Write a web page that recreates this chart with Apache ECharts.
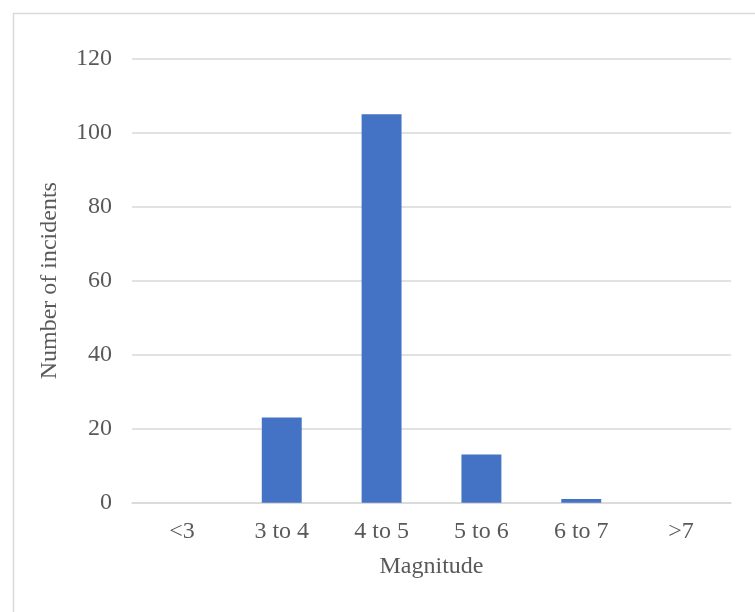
<!DOCTYPE html>
<html>
<head>
<meta charset="utf-8">
<style>
html,body{margin:0;padding:0;background:#fff;}
#chart{width:755px;height:612px;}
</style>
<script src="https://cdn.jsdelivr.net/npm/echarts@6/dist/echarts.min.js"></script>
</head>
<body>
<div id="chart"></div>
<script>
const categories = ['<3', '3 to 4', '4 to 5', '5 to 6', '6 to 7', '>7'];
const incidents = [0, 23, 105, 13, 1, 0];
const yTicks = {min: 0, max: 120, step: 20};

const chart = echarts.init(document.getElementById('chart'), null, {renderer: 'canvas'});
const font = '"Liberation Serif", "Times New Roman", serif';
chart.setOption({
  animation: false,
  backgroundColor: '#fff',
  graphic: [{
    type: 'rect',
    shape: {x: 13.5, y: 13.5, width: 800, height: 700},
    style: {fill: 'none', stroke: '#d9d9d9', lineWidth: 1.5},
    silent: true
  }],
  grid: {left: 132, right: 24, top: 58.7, bottom: 109.3},
  xAxis: {
    type: 'category',
    data: categories,
    axisLine: {show: true, lineStyle: {color: '#d9d9d9', width: 1.5}},
    axisTick: {show: false},
    axisLabel: {color: '#595959', fontFamily: font, fontSize: 24, margin: 17},
    name: 'Magnitude',
    nameLocation: 'middle',
    nameGap: 52,
    nameTextStyle: {color: '#595959', fontFamily: font, fontSize: 24}
  },
  yAxis: {
    type: 'value',
    min: yTicks.min,
    max: yTicks.max,
    interval: yTicks.step,
    axisLine: {show: false},
    axisTick: {show: false},
    splitLine: {lineStyle: {color: '#d9d9d9', width: 1.5}},
    axisLabel: {color: '#595959', fontFamily: font, fontSize: 24, margin: 20},
    name: 'Number of incidents',
    nameLocation: 'middle',
    nameRotate: 90,
    nameGap: 70,
    nameTextStyle: {color: '#595959', fontFamily: font, fontSize: 24}
  },
  series: [{
    type: 'bar',
    data: incidents,
    barCategoryGap: '60%',
    itemStyle: {color: '#4472c4'}
  }]
});
</script>
</body>
</html>
